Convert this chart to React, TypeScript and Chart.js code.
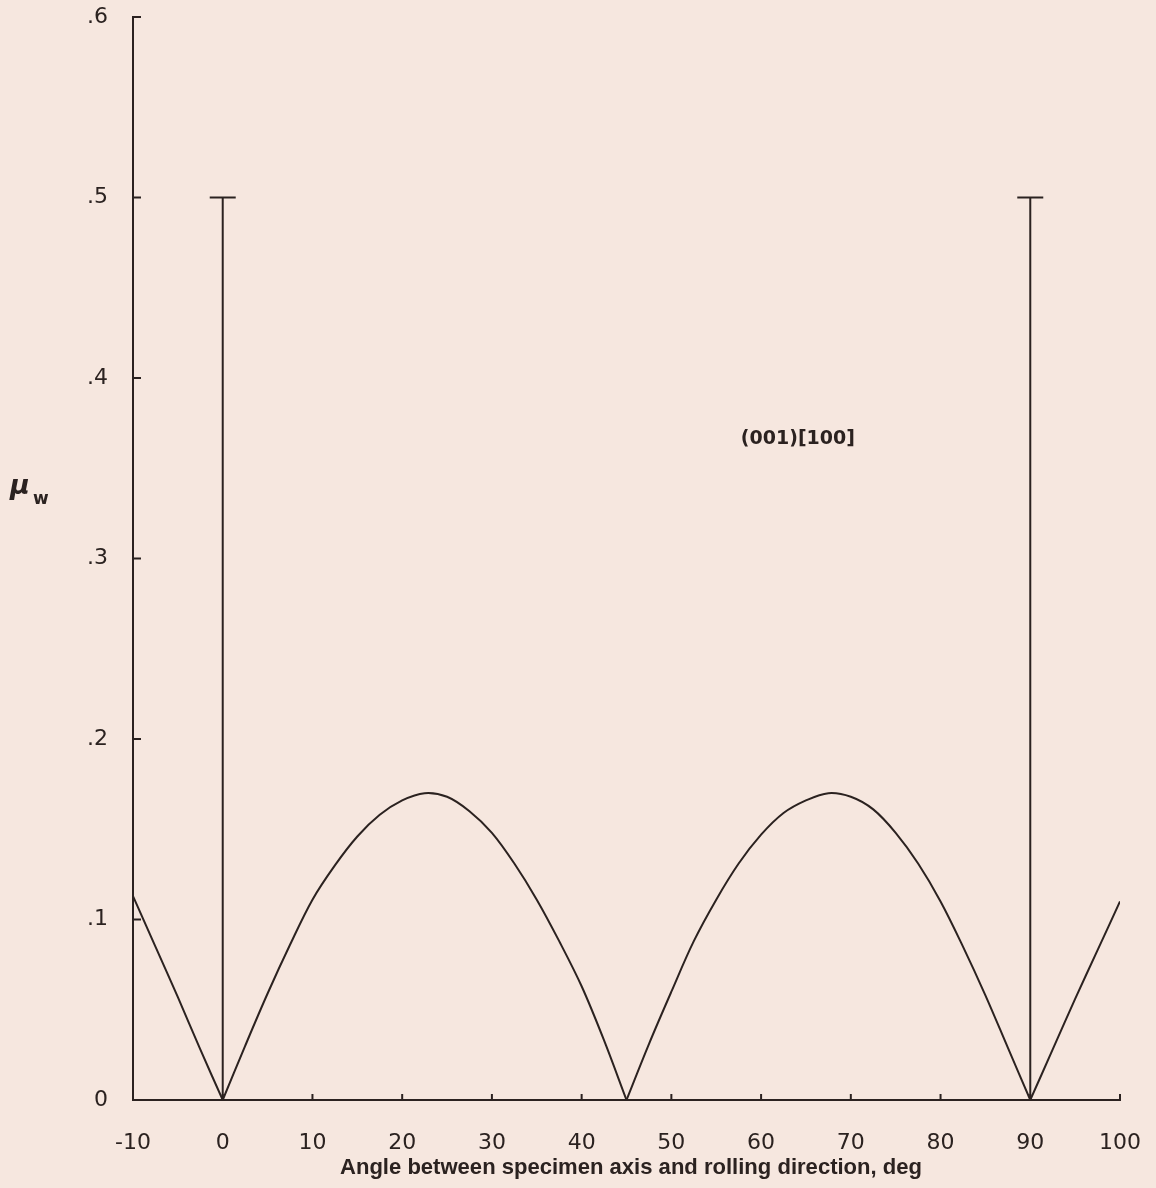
import React, { useEffect, useRef } from "react";
import { Chart, registerables } from "chart.js";

Chart.register(...registerables);

// ---- data ----
const curveAngles = [
  -10, -7.5, -5, -2.5, 0, 2.5, 5, 7.5, 10, 12.5, 15, 17.5, 20, 22.5, 25, 27.5, 30,
  32.5, 35, 37.5, 40, 42.5, 45, 47.5, 50, 52.5, 55, 57.5, 60, 62.5, 65, 67.5, 70,
  72.5, 75, 77.5, 80, 82.5, 85, 87.5, 90, 92.5, 95, 97.5, 100,
];
const curveMu = [
  0.113, 0.085, 0.057, 0.028, 0.0, 0.03, 0.059, 0.086, 0.111, 0.13, 0.146, 0.158,
  0.166, 0.17, 0.168, 0.16, 0.148, 0.131, 0.111, 0.088, 0.063, 0.033, 0.0, 0.031,
  0.06, 0.088, 0.111, 0.131, 0.147, 0.159, 0.166, 0.17, 0.168, 0.161, 0.148, 0.131,
  0.11, 0.085, 0.058, 0.029, 0.0, 0.028, 0.056, 0.083, 0.11,
];
const spikeAngles = [0, 90];
const spikeTops = [0.5, 0.5];
const yTickLabels = ["0", ".1", ".2", ".3", ".4", ".5", ".6"];
const xTickLabels = ["-10", "0", "10", "20", "30", "40", "50", "60", "70", "80", "90", "100"];
const annotationText = "(001)[100]";
const annotationPos = { x: 64.1, y: 0.366 };
const xTitle = "Angle between specimen axis and rolling direction, deg";
const yTitleMain = "\u03bc";
const yTitleSub = "w";

const INK = "#2b2220";
const BG = "#f6e7df";

// split the curve into arches at its zero points so the cusps stay sharp
function arches() {
  const out: { x: number; y: number }[][] = [];
  let cur: { x: number; y: number }[] = [];
  curveAngles.forEach((a, i) => {
    const p = { x: a, y: curveMu[i] };
    cur.push(p);
    if (curveMu[i] === 0 && cur.length > 1) {
      out.push(cur);
      cur = [p];
    }
  });
  if (cur.length > 1) out.push(cur);
  return out;
}

export default function App() {
  const ref = useRef<HTMLCanvasElement | null>(null);

  useEffect(() => {
    const canvas = ref.current;
    if (!canvas) return;

    const decor = {
      id: "decor",
      beforeDraw(chart: any) {
        const { ctx } = chart;
        ctx.save();
        ctx.fillStyle = BG;
        ctx.fillRect(0, 0, chart.width, chart.height);
        ctx.restore();
      },
      afterDraw(chart: any) {
        const { ctx, chartArea } = chart;
        const xs = chart.scales.x;
        const ys = chart.scales.y;
        ctx.save();
        ctx.strokeStyle = INK;
        ctx.lineWidth = 2;
        // inward tick marks
        xs.ticks.forEach((_: any, i: number) => {
          const px = xs.getPixelForTick(i);
          ctx.beginPath();
          ctx.moveTo(px, chartArea.bottom);
          ctx.lineTo(px, chartArea.bottom - 6);
          ctx.stroke();
        });
        ys.ticks.forEach((_: any, i: number) => {
          const py = ys.getPixelForTick(i);
          ctx.beginPath();
          ctx.moveTo(chartArea.left, py);
          ctx.lineTo(chartArea.left + 8, py);
          ctx.stroke();
        });
        ctx.fillStyle = INK;
        // annotation
        ctx.font = "bold 19px 'DejaVu Sans'";
        ctx.textAlign = "center";
        ctx.textBaseline = "middle";
        ctx.fillText(
          annotationText,
          xs.getPixelForValue(annotationPos.x),
          ys.getPixelForValue(annotationPos.y)
        );
        // y title
        ctx.textAlign = "left";
        ctx.textBaseline = "alphabetic";
        ctx.font = "italic bold 27px 'DejaVu Sans'";
        ctx.fillText(yTitleMain, 10, 494);
        ctx.font = "bold 17px 'DejaVu Sans'";
        ctx.fillText(yTitleSub, 33, 504);
        // x title, fitted to the reference width
        const target = 582;
        ctx.font = "bold 22px 'Liberation Sans'";
        const w = ctx.measureText(xTitle).width;
        const sx = target / w;
        ctx.translate(631, 1174);
        ctx.scale(sx, 1);
        ctx.textAlign = "center";
        ctx.fillText(xTitle, 0, 0);
        ctx.restore();
      },
    };

    const datasets: any[] = [
      ...arches().map((seg) => ({
        data: seg,
        borderColor: INK,
        borderWidth: 2,
        pointRadius: 0,
        tension: 0.35,
      })),
      ...spikeAngles.map((a, i) => ({
        data: [
          { x: a, y: 0 },
          { x: a, y: spikeTops[i] },
        ],
        borderColor: INK,
        borderWidth: 2,
        pointStyle: "line",
        pointRadius: [0, 13],
        pointBorderColor: INK,
        pointBorderWidth: 2,
      })),
    ];

    const chart = new Chart(canvas, {
      type: "line",
      data: { datasets },
      plugins: [decor],
      options: {
        responsive: false,
        animation: false,
        layout: { padding: { top: 17, right: 36, left: 0, bottom: 0 } },
        plugins: { legend: { display: false }, tooltip: { enabled: false } },
        scales: {
          x: {
            type: "linear",
            min: -10,
            max: 100,
            grid: { display: false },
            border: { display: true, color: INK, width: 2 },
            afterFit: (s: any) => {
              s.height = 88;
              s.paddingLeft = 0;
              s.paddingRight = 0;
            },
            ticks: {
              stepSize: 10,
              padding: 22,
              color: INK,
              font: { family: "'DejaVu Sans'", size: 22 },
              maxRotation: 0,
              autoSkip: false,
              callback: (_v: any, i: number) => xTickLabels[i],
            },
          },
          y: {
            type: "linear",
            min: 0,
            max: 0.6,
            grid: { display: false },
            border: { display: true, color: INK, width: 2 },
            afterFit: (s: any) => {
              s.width = 133;
              s.paddingTop = 0;
              s.paddingBottom = 0;
            },
            ticks: {
              stepSize: 0.1,
              padding: 17,
              color: INK,
              font: { family: "'DejaVu Sans'", size: 22 },
              autoSkip: false,
              callback: (_v: any, i: number) => yTickLabels[i],
            },
          },
        },
      } as any,
    });
    return () => chart.destroy();
  }, []);

  return (
    <div style={{ position: "absolute", left: 0, top: 0, width: 1156, height: 1188, background: BG }}>
      <canvas ref={ref} width={1156} height={1188} style={{ display: "block" }} />
    </div>
  );
}
